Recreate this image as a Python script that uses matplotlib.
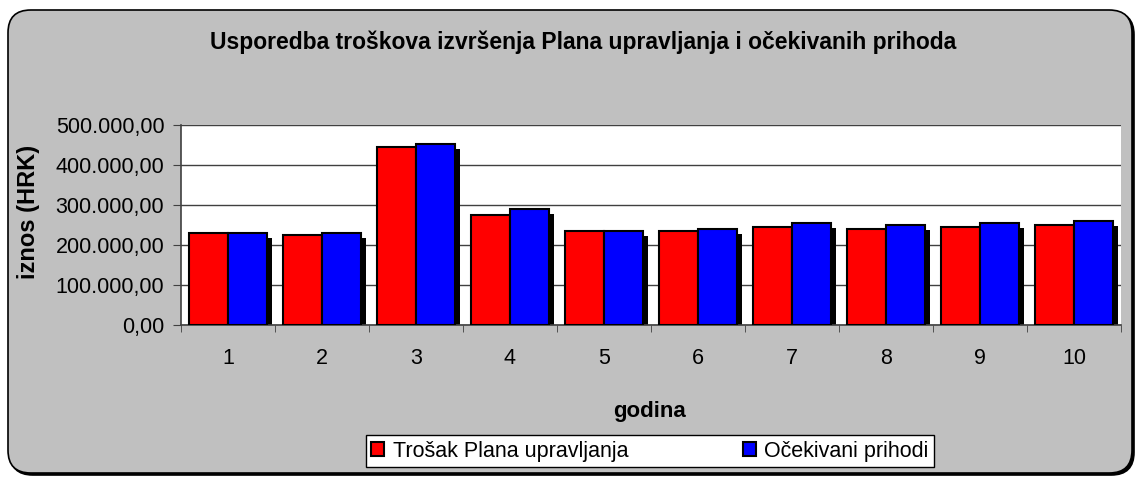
import matplotlib
matplotlib.use("Agg")
from matplotlib import pyplot as plt
from matplotlib.patches import FancyBboxPatch
import matplotlib.transforms as mtransforms
import numpy as np

# Data
godine = ["1", "2", "3", "4", "5", "6", "7", "8", "9", "10"]
trosak = [229000, 224000, 444000, 275000, 235000, 235000, 245000, 240000, 245000, 250000]
prihodi = [229000, 229000, 451000, 290000, 235000, 240000, 255000, 250000, 255000, 260000]
y_ticks = [0, 100000, 200000, 300000, 400000, 500000]

plt.rcParams["font.family"] = ["Liberation Sans", "DejaVu Sans"]

W, H = 1138, 479
fig = plt.figure(figsize=(W / 100, H / 100), dpi=100)
fig.patch.set_facecolor("white")

# Grey rounded chart area with a small drop shadow
for dx, fc, z in [(2, "black", -6), (0, "#C0C0C0", -5)]:
    box = FancyBboxPatch(((8 + dx) / W, (6 - dx) / H), 1124 / W, 463 / H,
                         boxstyle="round,pad=0,rounding_size=0.02",
                         transform=fig.transFigure, facecolor=fc,
                         edgecolor="black", linewidth=1.2, mutation_aspect=W / H,
                         zorder=z)
    fig.patches.append(box)

ax = fig.add_axes([181 / W, 1 - 324.5 / H, 940 / W, 200 / H])
ax.set_facecolor("white")

x = np.arange(len(godine))
w = 0.41
shadow = mtransforms.offset_copy(ax.transData, fig=fig, x=5, y=-5, units="dots")

ax.bar(x - w / 2, trosak, w, color="black", transform=shadow, zorder=2)
ax.bar(x + w / 2, prihodi, w, color="black", transform=shadow, zorder=2)
ax.bar(x - w / 2, trosak, w, color="#FF0000", edgecolor="black", linewidth=1.5,
       label="Trošak Plana upravljanja", zorder=3)
ax.bar(x + w / 2, prihodi, w, color="#0000FF", edgecolor="black", linewidth=1.5,
       label="Očekivani prihodi", zorder=3)

ax.set_xlim(-0.5, len(godine) - 0.5)
ax.set_ylim(0, 500000)
ax.set_yticks(y_ticks)
ax.set_yticklabels([f"{v:,.2f}".replace(",", "X").replace(".", ",").replace("X", ".")
                    for v in y_ticks], fontsize=15.5)
ax.set_xticks(x)
ax.set_xticklabels(godine, fontsize=15.5)
ax.set_xticks(np.arange(len(godine) + 1) - 0.5, minor=True)
ax.tick_params(axis="x", which="major", length=0, pad=17)
ax.tick_params(axis="x", which="minor", length=5, direction="out", color="#404040")
ax.tick_params(axis="y", length=6, direction="out", color="#404040", pad=6)

ax.yaxis.grid(True, color="#404040", linewidth=1)
ax.set_axisbelow(True)
for side in ["top", "right"]:
    ax.spines[side].set_visible(False)
ax.spines["left"].set_color("#404040")
ax.spines["bottom"].set_color("#404040")
ax.spines["left"].set_linewidth(1.2)
ax.spines["bottom"].set_linewidth(1.2)

fig.text(583 / W, 1 - 42 / H, "Usporedba troškova izvršenja Plana upravljanja i očekivanih prihoda",
         ha="center", va="center", fontsize=16.5, fontweight="bold")
fig.text(28 / W, 1 - 212 / H, "iznos (HRK)", rotation=90, ha="center", va="center",
         fontsize=17, fontweight="bold")
fig.text(650 / W, 1 - 411 / H, "godina", ha="center", va="center",
         fontsize=16, fontweight="bold")

leg = fig.legend(loc="center", bbox_to_anchor=(650 / W, 1 - 451 / H), ncol=2,
                 fontsize=15.5, frameon=True, fancybox=False, edgecolor="black",
                 facecolor="white", framealpha=1,
                 handlelength=0.6, handleheight=0.6, columnspacing=5.3,
                 handletextpad=0.4, borderpad=0.25, borderaxespad=0)
leg.get_frame().set_linewidth(1)

plt.savefig("out.png", dpi=100, facecolor=fig.get_facecolor())
